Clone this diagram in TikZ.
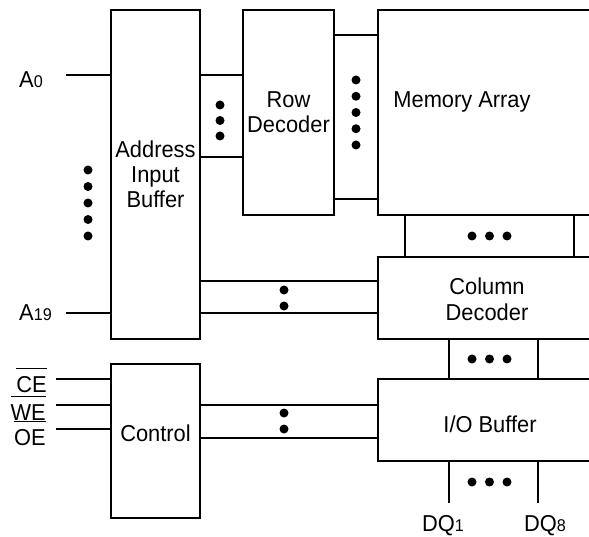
\documentclass[tikz,border=0pt]{standalone}
\usepackage{fontspec}
\setmainfont[FakeStretch=0.95]{Liberation Sans}
\usetikzlibrary{positioning}
\tikzstyle{block} = [draw,line width=1.4pt,rectangle,inner sep=0,outer sep=0,anchor=north west,align=center,font=\fontsize{23}{25}\selectfont]
\tikzstyle{bus} = [-,line width=1.4pt]
\tikzstyle{txt} = [inner sep=0,align=center,font=\fontsize{23}{25}\selectfont]
\tikzstyle{bead} = [circle,fill=black,minimum size=9pt,inner sep=0pt,outer sep=0pt]
\newcommand{\subdigit}[1]{{\fontsize{17}{17}\selectfont #1}}
\newcommand{\negsig}[1]{\vbox{\hrule height 1.3pt\kern 7pt\hbox{#1}}}

\begin{document}
\begin{tikzpicture}[x=1pt,y=1pt]
      \useasboundingbox (0,0) rectangle (589,536);
      \clip (0,0) rectangle (589,536);
      % blocks
      \node[block,minimum width=89pt,minimum height=329pt] (aib) at (111,526) {Address\\Input\\Buffer};
      \node[block,minimum width=91pt,minimum height=205pt] (rd) at (243,526) {Row\\Decoder};
      \node[block,minimum width=260pt,minimum height=205pt] (mem) at (378,526) {};
      \node[block,minimum width=260pt,minimum height=82pt] (cd) at (378,279) {};
      \node[block,minimum width=260pt,minimum height=82pt] (io) at (378,157) {};
      \node[block,minimum width=89pt,minimum height=154pt] (ctl) at (111,172) {};
      \node[txt,anchor=base] (memtext) at (462,428) {Memory Array};
      \node[txt,font=\fontsize{23}{26}\selectfont] (cdtext) at (487,237) {Column\\Decoder};
      \node[txt,anchor=base] (iotext) at (490,104) {I/O Buffer};
      \node[txt,anchor=base] (ctltext) at (155.5,95) {Control};
      % address inputs
      \coordinate (a0) at (66,461);
      \coordinate (a19) at (66,223);
      \draw[bus] (a0) -- (a0 -| aib.west);
      \draw[bus] (a19) -- (a19 -| aib.west);
      \node[txt,anchor=base west] (a0lbl) at (19,448) {A\subdigit{0}};
      \node[txt,anchor=base west] (a19lbl) at (19,215) {A\subdigit{19}};
      \foreach \i in {0,...,4}
        \node[bead] (adot\i) at (88,366-16.5*\i) {};
      % buffer to row decoder
      \draw[bus] ([yshift=-65pt]rd.north west) coordinate (r1) -- (r1 -| aib.east);
      \draw[bus] ([yshift=-147pt]rd.north west) coordinate (r2) -- (r2 -| aib.east);
      \foreach \i in {0,...,2}
        \node[bead] (rdot\i) at (220,431-15.5*\i) {};
      % row decoder to array
      \draw[bus] ([yshift=-25pt]mem.north west) coordinate (w1) -- (w1 -| rd.east);
      \draw[bus] ([yshift=-189pt]mem.north west) coordinate (w2) -- (w2 -| rd.east);
      \foreach \i in {0,...,4}
        \node[bead] (wdot\i) at (356,456-16.25*\i) {};
      % array to column decoder
      \draw[bus] ([xshift=27pt]mem.south west) coordinate (b1) -- (b1 |- cd.north);
      \draw[bus] ([xshift=196pt]mem.south west) coordinate (b2) -- (b2 |- cd.north);
      \foreach \i in {0,...,2}
        \node[bead] (bdot\i) at (472+17.5*\i,300) {};
      % buffer to column decoder
      \draw[bus] ([yshift=-24pt]cd.north west) coordinate (c1) -- (c1 -| aib.east);
      \draw[bus] ([yshift=-56pt]cd.north west) coordinate (c2) -- (c2 -| aib.east);
      \node[bead] (cdot0) at (284,246) {};
      \node[bead] (cdot1) at (284,230) {};
      % column decoder to i/o buffer
      \draw[bus] ([xshift=71pt]cd.south west) coordinate (d1) -- (d1 |- io.north);
      \draw[bus] ([xshift=160pt]cd.south west) coordinate (d2) -- (d2 |- io.north);
      \foreach \i in {0,...,2}
        \node[bead] (ddot\i) at (472+17.5*\i,177) {};
      % control
      \coordinate (ce) at (56,157);
      \coordinate (we) at (56,131);
      \coordinate (oe) at (56,107);
      \draw[bus] (ce) -- (ce -| ctl.west);
      \draw[bus] (we) -- (we -| ctl.west);
      \draw[bus] (oe) -- (oe -| ctl.west);
      \node[txt,anchor=base east] (celbl) at (47,144) {\negsig{CE}};
      \node[txt,anchor=base east] (welbl) at (46,116) {\negsig{WE}};
      \node[txt,anchor=base east] (oelbl) at (46,91) {\negsig{OE}};
      \draw[bus] ([yshift=-26pt]io.north west) coordinate (k1) -- (k1 -| ctl.east);
      \draw[bus] ([yshift=-59pt]io.north west) coordinate (k2) -- (k2 -| ctl.east);
      \node[bead] (kdot0) at (284,123) {};
      \node[bead] (kdot1) at (284,107) {};
      % data outputs
      \coordinate (dq1) at (449,33);
      \coordinate (dq8) at (538,33);
      \draw[bus] (dq1) -- (dq1 |- io.south);
      \draw[bus] (dq8) -- (dq8 |- io.south);
      \foreach \i in {0,...,2}
        \node[bead] (qdot\i) at (472+17.5*\i,54) {};
      \node[txt,anchor=base] (dq1lbl) at (443,5) {DQ\subdigit{1}};
      \node[txt,anchor=base] (dq8lbl) at (545,5) {DQ\subdigit{8}};
    \end{tikzpicture}
\end{document}
